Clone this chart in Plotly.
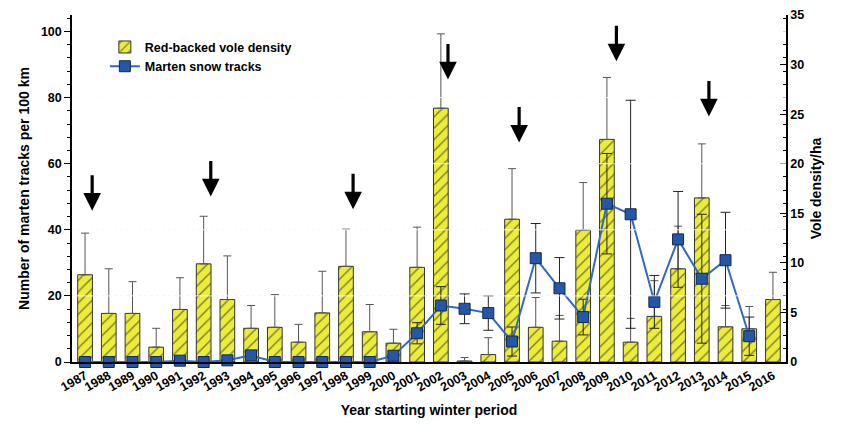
import plotly.graph_objects as go

# ---------------- data ----------------
years = list(range(1987, 2017))
year_labels = [str(y) for y in years]

# Red-backed vole density (voles/ha, right axis) and upper error
vole_density = [8.8, 4.9, 4.9, 1.5, 5.3, 9.9, 6.3, 3.4, 3.5, 2.0,
                4.95, 9.65, 3.05, 1.9, 9.55, 25.6, 0.1, 0.75, 14.4, 3.5,
                2.1, 13.3, 22.45, 2.0, 4.6, 9.4, 16.55, 3.55, 3.35, 6.3]
vole_err = [4.2, 4.5, 3.2, 1.9, 3.2, 4.8, 4.4, 2.3, 3.3, 1.8,
            4.2, 3.75, 2.75, 1.4, 4.05, 7.5, 0.35, 1.7, 5.1, 3.0,
            2.6, 4.8, 6.25, 2.4, 3.6, 4.3, 5.45, 2.15, 2.25, 2.75]

# Marten snow tracks per 100 km (left axis) and symmetric error
marten_tracks = [0, 0, 0, 0, 0.4, 0, 0.5, 2.0, 0, 0,
                 0, 0, 0, 1.9, 8.7, 17.1, 16.1, 14.8, 6.2, 31.4,
                 22.3, 13.6, 47.9, 44.7, 18.2, 37.1, 25.2, 30.8, 7.8, None]
marten_err = [0, 0, 0, 0, 0, 0, 0, 0, 0, 0,
              0, 0, 0, 0, 3.2, 5.7, 4.5, 5.2, 4.4, 10.5,
              9.3, 5.4, 15.2, 34.5, 8.0, 14.5, 19.5, 14.5, 5.8, 0]

# arrows (year position, tip value on marten axis)
arrow_x = [1987.3, 1992.3, 1998.3, 2002.3, 2005.3, 2009.4, 2013.3]
arrow_y = [45.8, 50.1, 46.2, 85.5, 66.4, 91.0, 74.3]

left_ticks = [0, 20, 40, 60, 80, 100]
right_ticks = [0, 5, 10, 15, 20, 25, 30, 35]

FONT = "Arial, Liberation Sans, sans-serif"

fig = go.Figure()

fig.add_trace(go.Bar(
    x=years, y=vole_density, yaxis="y",
    name="Red-backed vole density",
    width=0.62,
    marker=dict(color="#ecec3c",
                line=dict(color="#333333", width=1),
                pattern=dict(shape="/", fgcolor="#111111", bgcolor="#ecec3c",
                             size=8, solidity=0.18)),
    error_y=dict(type="data", symmetric=False, array=vole_err,
                 arrayminus=[0] * len(vole_err),
                 color="#555555", thickness=1, width=4),
))

fig.add_trace(go.Scatter(
    x=years, y=marten_tracks, yaxis="y2",
    name="Marten snow tracks",
    mode="lines+markers",
    cliponaxis=False,
    line=dict(color="#3068c4", width=2),
    marker=dict(symbol="square", size=11, color="#2457a8",
                line=dict(color="#13284f", width=1)),
    error_y=dict(type="data", array=marten_err, color="#222222",
                 thickness=1, width=5),
))

for ax_, ay_ in zip(arrow_x, arrow_y):
    fig.add_annotation(x=ax_, y=ay_, xref="x", yref="y2", text="",
                       showarrow=True, ax=0, ay=-37, axref="pixel", ayref="pixel",
                       arrowhead=2, arrowsize=1.1, arrowwidth=3.2,
                       arrowcolor="black", standoff=0)

# white grid lines drawn over bars
for t in left_ticks[1:]:
    fig.add_shape(type="line", xref="paper", yref="y2", x0=0, x1=1, y0=t, y1=t,
                  line=dict(color="rgba(255,255,255,0.85)", width=1),
                  layer="above")

fig.update_layout(
    width=849, height=424,
    margin=dict(l=72, r=63, t=15, b=62, autoexpand=False),
    plot_bgcolor="white", paper_bgcolor="white",
    font=dict(family=FONT, color="black", size=12),
    showlegend=True,
    legend=dict(x=0.046, y=0.95, xanchor="left", yanchor="top",
                bgcolor="rgba(0,0,0,0)", tracegroupgap=0,
                font=dict(family=FONT, size=12.5, weight="bold")),
    xaxis=dict(
        range=[1986.45, 2016.55], automargin=False,
        tickvals=years, ticktext=year_labels, tickangle=-30,
        tickfont=dict(family=FONT, size=12.5, weight="bold"),
        showline=True, linecolor="black", linewidth=1.5,
        ticks="", showgrid=False, zeroline=False,
        title=dict(text="Year starting winter period", standoff=12,
                   font=dict(family=FONT, size=14, weight="bold")),
    ),
    yaxis=dict(
        side="right", range=[0, 35], tickvals=right_ticks, automargin=False,
        ticks="inside", ticklen=6, tickcolor="black",
        minor=dict(dtick=4 / 3, ticks="inside", ticklen=3, tickcolor="black"),
        showline=True, linecolor="black", linewidth=1.5,
        showgrid=False, zeroline=False,
        tickfont=dict(family=FONT, size=12.5, weight="bold"),
        title=dict(text="Vole density/ha", standoff=8,
                   font=dict(family=FONT, size=14, weight="bold")),
    ),
    yaxis2=dict(
        overlaying="y", side="left", range=[0, 105], tickvals=left_ticks,
        automargin=False,
        ticks="outside", ticklen=6, tickcolor="black",
        minor=dict(dtick=4, ticks="outside", ticklen=3, tickcolor="black",
                   showgrid=False),
        showline=True, linecolor="black", linewidth=1.5,
        showgrid=True, gridcolor="#eeeeee", griddash="dot", gridwidth=1,
        zeroline=False,
        tickfont=dict(family=FONT, size=12.5, weight="bold"),
        title=dict(text="Number of marten tracks per 100 km", standoff=8,
                   font=dict(family=FONT, size=14, weight="bold")),
    ),
)

fig.write_html("out.html", config={"displayModeBar": False},
               post_script="document.body.style.margin='0';")
